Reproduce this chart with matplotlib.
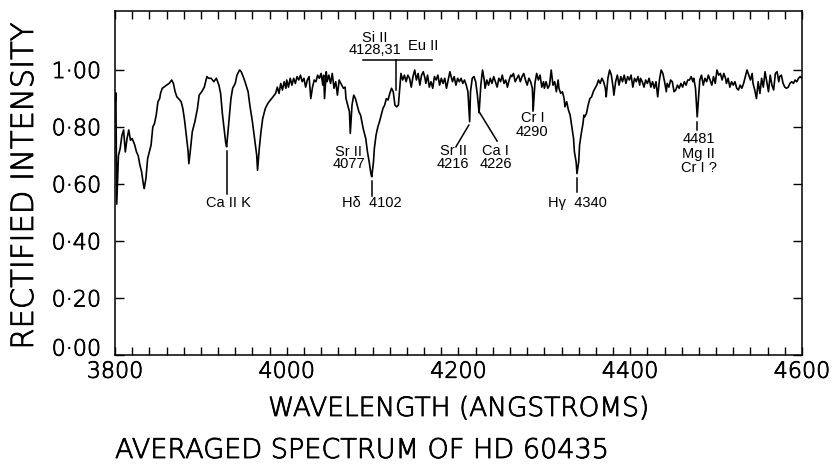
import matplotlib
matplotlib.use('Agg')
import matplotlib.pyplot as plt
import matplotlib.patheffects as pe
from matplotlib.ticker import MultipleLocator

# averaged spectrum (wavelength in A, rectified intensity)
wavelength = [
    3800, 3801, 3802, 3804, 3806, 3808, 3810, 3812, 3814, 3816, 3818, 3820, 3823, 3825,
    3827, 3829, 3831, 3833, 3834, 3836, 3838, 3840, 3842, 3844, 3846, 3848, 3850, 3852,
    3853, 3855, 3857, 3860, 3863, 3866, 3868, 3870, 3872, 3874, 3877, 3879, 3881, 3883,
    3885, 3886, 3888, 3890, 3893, 3896, 3898, 3901, 3904, 3907, 3909, 3912, 3915, 3918,
    3921, 3923, 3925, 3927, 3929, 3930, 3932, 3935, 3937, 3940, 3942, 3945, 3947, 3950,
    3952, 3955, 3957, 3960, 3963, 3965,
    3966, 3968, 3970, 3972, 3975, 3978, 3981, 3984, 3987, 3989, 3991, 3993, 3995, 3997,
    3999, 4000, 4002, 4004, 4006, 4008, 4010, 4012, 4014, 4016, 4018, 4020, 4022, 4024,
    4026, 4028, 4030, 4032, 4034, 4036, 4038, 4040, 4042, 4043, 4044, 4046, 4047, 4049,
    4051, 4053, 4055, 4057, 4059, 4061, 4063, 4066, 4068, 4069, 4071, 4073, 4074, 4076,
    4078, 4080, 4082, 4084, 4086, 4089, 4092, 4094, 4096, 4098, 4099, 4101, 4102, 4104,
    4106, 4108, 4110, 4112, 4114, 4116, 4118, 4120, 4122, 4124, 4126, 4128, 4130,
    4133, 4135, 4137, 4139, 4141, 4143, 4145, 4147, 4149, 4151, 4153, 4155, 4157, 4159,
    4161, 4162, 4164, 4166, 4168, 4170, 4172, 4174, 4176, 4178, 4180, 4182, 4184, 4186,
    4188, 4190, 4192, 4193, 4195, 4197, 4199, 4201, 4203, 4205, 4207, 4209, 4211, 4213,
    4214, 4216, 4218, 4220, 4222, 4224, 4226, 4228, 4230, 4231, 4233, 4235, 4237, 4239,
    4241, 4243, 4245, 4247, 4249, 4251, 4253, 4255, 4257, 4259, 4261, 4262, 4264, 4266,
    4268, 4270, 4272, 4274, 4276, 4278, 4280, 4282, 4284, 4286, 4287, 4289, 4291, 4293,
    4295, 4297, 4299,
    4300, 4302, 4304, 4306, 4308, 4310, 4312, 4314, 4316, 4317, 4319, 4321, 4323, 4324,
    4326, 4328, 4330, 4332, 4334, 4335, 4337, 4338, 4340, 4341, 4343, 4345, 4346, 4347,
    4349, 4351, 4353, 4355, 4357, 4359, 4361, 4363, 4365, 4367, 4369, 4371, 4372, 4374,
    4376, 4378, 4380, 4381, 4383, 4385, 4387, 4389, 4391, 4393, 4395, 4397, 4399, 4401,
    4403, 4405, 4407, 4409, 4411, 4412, 4414, 4416, 4418, 4420, 4422, 4424, 4426, 4428,
    4430, 4432, 4434, 4436, 4438, 4440, 4442, 4443, 4445, 4447, 4449, 4451, 4453, 4455,
    4457, 4459, 4461, 4463, 4465, 4467,
    4469, 4471, 4473, 4474, 4476, 4478, 4480, 4481, 4483, 4485, 4487, 4489, 4491, 4493,
    4495, 4497, 4499, 4501, 4503, 4505, 4507, 4509, 4511, 4512, 4514, 4516, 4518, 4520,
    4522, 4524, 4526, 4528, 4530, 4532, 4534, 4536, 4538, 4540, 4542, 4543, 4545, 4547,
    4549, 4551, 4553, 4555, 4557, 4559, 4561, 4563, 4565, 4567, 4569, 4571, 4573, 4574,
    4576, 4578, 4580, 4582, 4584, 4586, 4588, 4590, 4592, 4594, 4596, 4598, 4600,
]
intensity = [
    .877, .92, .53, .70, .725, .77, .79, .713, .76, .79, .754, .76, .737, .713,
    .70, .667, .643, .60, .585, .62, .69, .713, .737, .80, .813, .842, .889, .90,
    .918, .936, .94, .947, .953, .965, .953, .924, .906, .90, .889, .865, .824, .772,
    .719, .672, .725, .784, .819, .865, .912, .924, .94, .977, .971, .971, .959, .971,
    .947, .918, .848, .795, .743, .731, .80, .90, .936, .953, .982, 1.0, .994, .971,
    .953, .924, .877, .819, .749, .702,
    .649, .725, .784, .83, .865, .883, .895, .906, .918, .94, .918, .953, .93, .959,
    .936, .965, .94, .971, .947, .971, .953, .977, .965, .982, .959, .971, .94, .965,
    .977, .90, .94, .965, .959, .982, .971, .988, .947, .982, .90, .994, .959, .982,
    .953, .988, .936, .959, .912, .965, .953, .936, .94, .90, .877, .854, .778, .877,
    .912, .90, .877, .854, .842, .795, .76, .713, .678, .637, .626, .678, .725, .772,
    .80, .819, .842, .865, .877, .90, .895, .918, .936, .924, .877, .871, .877,
    .988, .965, .982, .959, .982, .971, .94, .977, 1.0, .965, .988, .947, .982, .994,
    .971, .953, .982, .94, .959, .936, .977, .965, .982, .947, .971, .953, .971, .936,
    .965, .994, .971, .959, .977, .947, .971, .959, .971, .953, .965, .947, .924, .819,
    .924, .971, .977, .959, .912, .85, .947, 1.0, .965, .936, .965, .947, .971, .953,
    .977, .959, .94, .971, .959, .982, .953, .965, .94, .965, .982, .977, .988, .959,
    .971, .982, .959, .977, .988, .965, .947, .971, .959, .936, .86, .953, .988, .965,
    .982, .94, .959,
    .936, .959, .936, .947, 1.0, .947, .959, .924, .965, .936, .918, .924, .90, .871,
    .889, .86, .842, .80, .76, .713, .678, .637, .678, .737, .778, .813, .842, .836,
    .848, .877, .90, .906, .924, .936, .947, .965, .953, .971, .959, .936, .906, .971,
    1.0, .982, .94, .912, .959, .982, .947, .977, .959, .982, .953, .977, .965, .982,
    .94, .971, .959, .977, .947, .971, .959, .94, .965, .953, .971, .94, .959, .936,
    .959, .906, .965, 1.0, .988, .959, .924, .953, .94, .965, .959, .924, .93, .947,
    .936, .953, .94, .959, .947, .965,
    .965, .977, .959, .971, .936, .836, .924, .965, .982, .947, .971, .959, .982, .965,
    .947, .977, .953, 1.0, .982, .988, .965, .988, .971, .953, .971, .94, .959, .947,
    .959, .936, .93, .947, .936, .953, .977, 1.0, .982, .965, .988, .953, .93, .90,
    .959, .918, .971, .94, .994, .959, .924, .982, .947, .93, .988, .994, .959, .977,
    .982, .953, .94, .936, .94, .953, .959, .953, .965, .959, .971, .977, .971,
]

# line identifications (text, wavelength, intensity at text centre)
label_text = ['Ca II K', 'Sr II\n4077', 'H\u03b4  4102', 'Si II\n4128,31', 'Eu II',
              'Sr II\n4216', 'Ca I\n4226', 'Cr I\n4290', 'H\u03b3  4340',
              '4481\nMg II\nCr I ?']
label_wl = [3932, 4072, 4099, 4103, 4159, 4194, 4243, 4286, 4338, 4480]
label_int = [0.533, 0.692, 0.535, 1.09, 1.085, 0.695, 0.695, 0.808, 0.535, 0.707]
label_spacing = [1.0, 0.82, 1.0, 0.82, 1.0, 0.9, 0.9, 0.95, 1.0, 1.02]

# marker strokes: (wl0, int0, wl1, int1)
marks = [
    (3931, 0.715, 3931, 0.565),
    (4099, 0.61, 4099, 0.56),
    (4212, 0.807, 4197, 0.731),
    (4224, 0.854, 4245, 0.751),
    (4287, 0.880, 4287, 0.858),
    (4338, 0.62, 4338, 0.573),
    (4478, 0.817, 4478, 0.79),
    (4089, 1.034, 4169, 1.034),
    (4127, 1.034, 4127, 0.93),
]

thin_font = dict(family='DejaVu Sans', weight='ultralight')
# thicken the extralight strokes a little, like the plotter lettering
heavier = [pe.withStroke(linewidth=0.6, foreground='black')]

fig = plt.figure(figsize=(8.34, 4.65), dpi=100)
ax = fig.add_axes([0.1379, 0.2355, 0.8237, 0.7398])

ax.plot(wavelength, intensity, color='black', lw=1.2)

for t, x, y, ls in zip(label_text, label_wl, label_int, label_spacing):
    ax.text(x, y, t, ha='center', va='center', fontsize=10.5, linespacing=ls,
            multialignment='center', family='Liberation Sans', color='black')
for x0, y0, x1, y1 in marks:
    ax.plot([x0, x1], [y0, y1], color='black', lw=1.1)

ax.set_xlim(3800, 4600)
ax.set_ylim(0, 1.205)
ax.set_xticks([3800, 4000, 4200, 4400, 4600])
ax.xaxis.set_minor_locator(MultipleLocator(20))
yt = [0.0, 0.2, 0.4, 0.6, 0.8, 1.0]
ax.set_yticks(yt)
ax.set_yticklabels([('%.2f' % v).replace('.', '\u00b7') for v in yt])

ax.tick_params(axis='x', which='both', direction='in', top=True, bottom=True,
               length=5.5, width=1.0, pad=4.5, labelsize=16)
ax.tick_params(axis='y', which='both', direction='in', left=True, right=True,
               length=6.5, width=1.0, pad=10, labelsize=16)
for lab in ax.get_xticklabels() + ax.get_yticklabels():
    lab.set_fontfamily('DejaVu Sans')
    lab.set_fontweight('ultralight')
    lab.set_path_effects(heavier)
ax.yaxis.get_major_ticks()[0].label1.set_verticalalignment('baseline')

for s in ax.spines.values():
    s.set_linewidth(1.1)

fig.text(33 / 834, 0.599, 'RECTIFIED INTENSITY', rotation=90, rotation_mode='anchor',
         ha='center', va='baseline', fontsize=22, path_effects=heavier, **thin_font)
fig.text(458.5 / 834, 49 / 465, 'WAVELENGTH (ANGSTROMS)', ha='center', va='baseline',
         fontsize=19, path_effects=heavier, **thin_font)
fig.text(115 / 834, 7 / 465, 'AVERAGED SPECTRUM OF HD 60435', ha='left', va='baseline',
         fontsize=19.5, path_effects=heavier, **thin_font)

fig.savefig('out.png', dpi=100)
